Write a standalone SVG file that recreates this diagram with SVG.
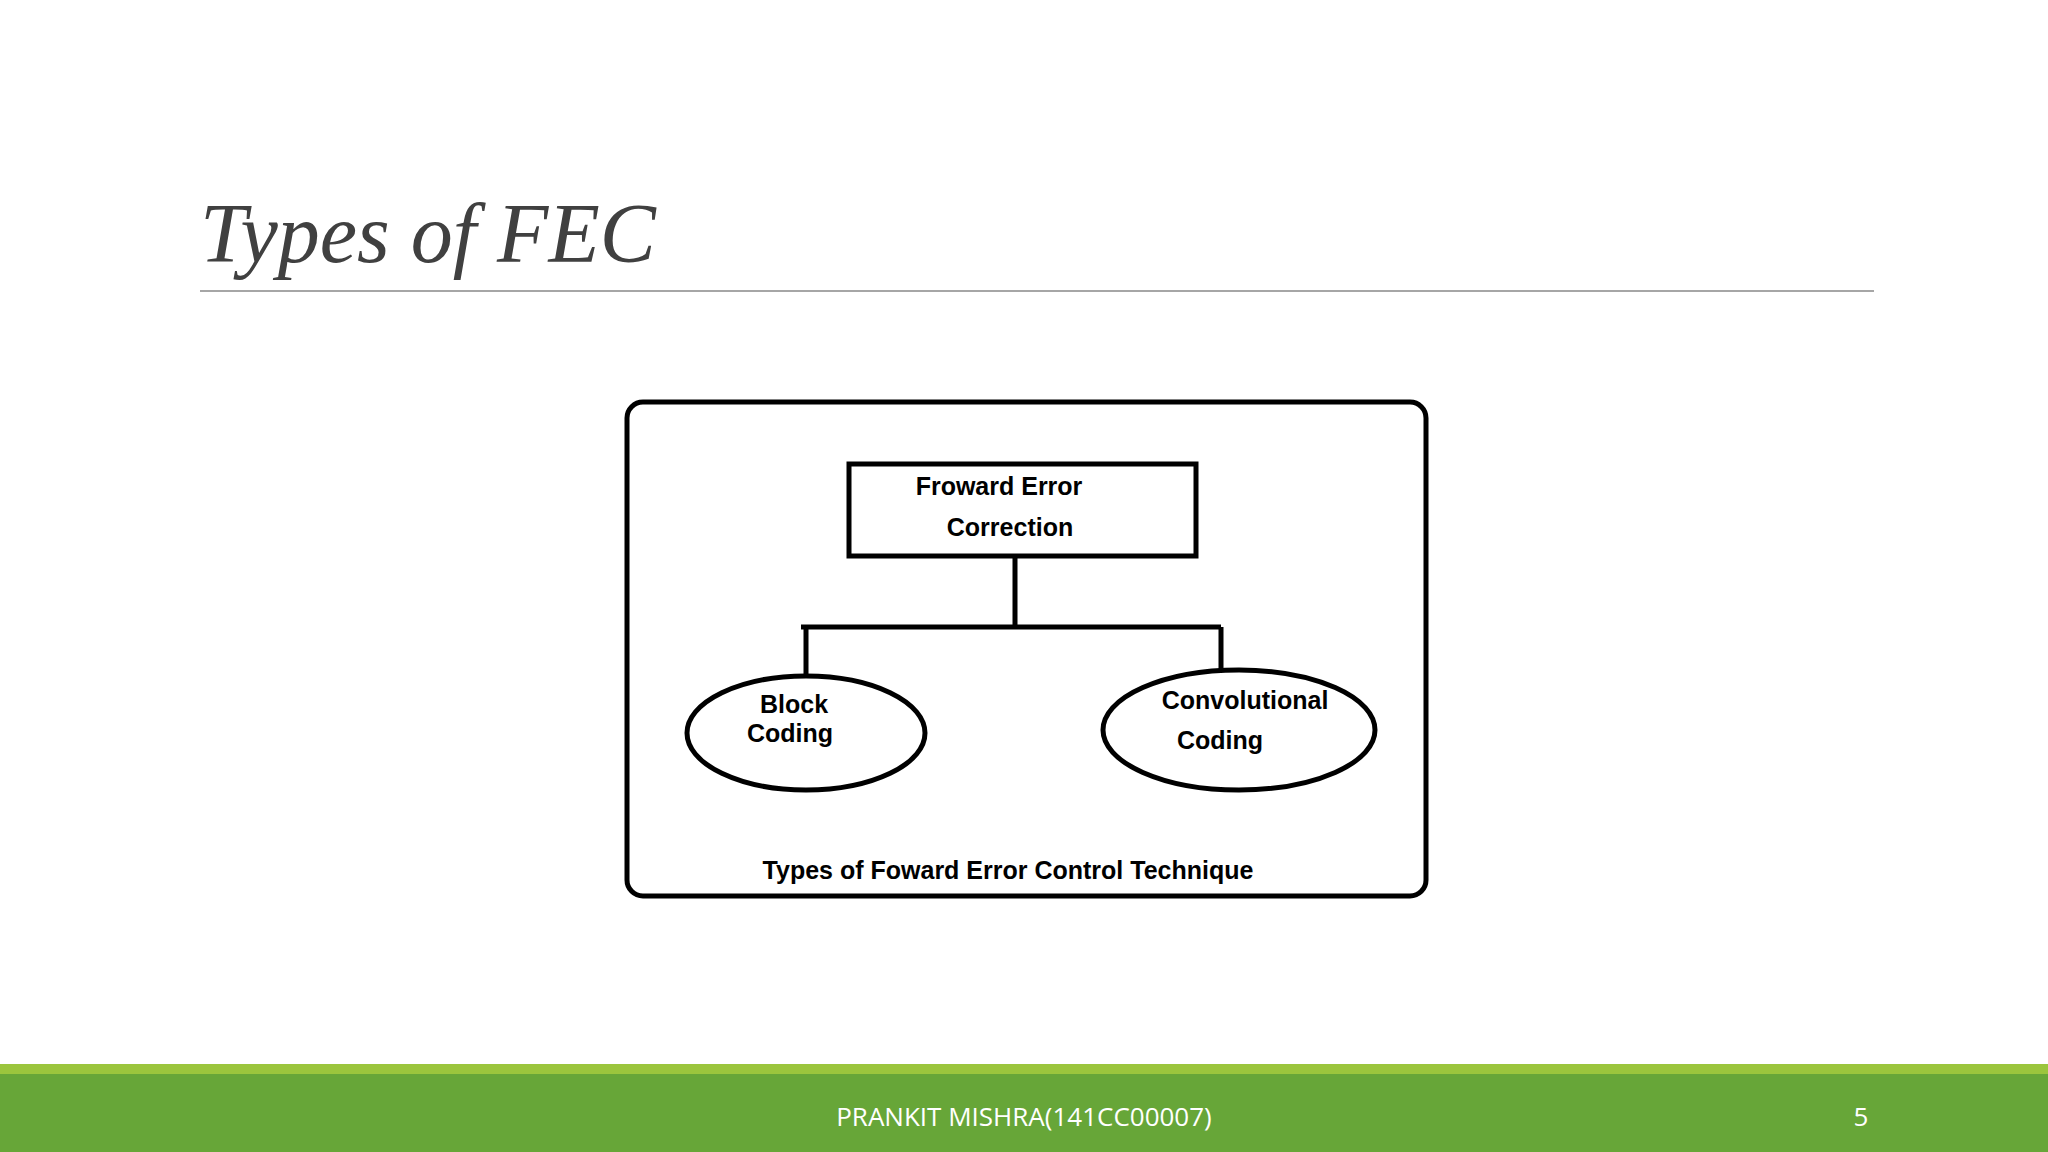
<svg xmlns="http://www.w3.org/2000/svg" width="2048" height="1152" viewBox="0 0 2048 1152">
<style>
.s{fill:none;stroke:#000;stroke-width:5}
.t{font-family:"Liberation Sans",Arial,sans-serif;font-weight:bold;font-size:25px;fill:#000;text-anchor:middle}
.f{font-family:"Open Sans","Liberation Sans",sans-serif;font-size:26px;fill:#fff;text-anchor:middle}
</style>
<rect width="2048" height="1152" fill="#fff"/>
<text x="200" y="262" font-family="Liberation Serif,serif" font-style="italic" font-size="84" fill="#404040">Types of FEC</text>
<line x1="200" y1="291" x2="1874" y2="291" stroke="#a6a6a6" stroke-width="2"/>
<g id="frame"><rect x="627" y="402" width="799" height="494" rx="16" class="s"/>
<text x="1008" y="879" class="t">Types of Foward Error Control Technique</text></g>
<g id="fec"><rect x="849" y="464" width="347" height="92" class="s"/>
<text x="999" y="495" class="t">Froward Error</text><text x="1010" y="536" class="t">Correction</text></g>
<g id="block"><ellipse cx="806" cy="733" rx="119" ry="57" class="s"/>
<text x="794" y="713" class="t">Block</text><text x="790" y="742" class="t">Coding</text></g>
<g id="conv"><ellipse cx="1239" cy="730" rx="136" ry="60" class="s"/>
<text x="1245" y="709" class="t">Convolutional</text><text x="1220" y="749" class="t">Coding</text></g>
<g id="connectors" class="s">
<path d="M1015 556V627M801 627H1221M806 627V675M1221 627V671"/>
</g>
<rect x="0" y="1064" width="2048" height="10" fill="#9bc53d"/>
<rect x="0" y="1074" width="2048" height="78" fill="#67a638"/>
<text x="1024" y="1126" class="f">PRANKIT MISHRA(141CC00007)</text>
<text x="1861" y="1126" class="f">5</text>
</svg>
